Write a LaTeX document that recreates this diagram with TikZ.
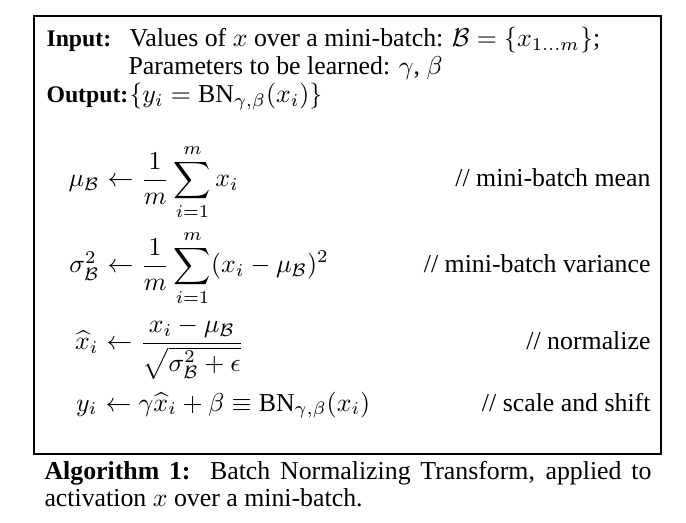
\documentclass[tikz,border=0pt]{standalone}
\usepackage{amsmath}
\usepackage[no-math]{fontspec}
\setmainfont{Liberation Serif}
\begin{document}
\begin{tikzpicture}[x=0.3872pt, y=-0.3872pt,
  lft/.style={inner sep=0pt, anchor=base west},
  rgt/.style={inner sep=0pt, anchor=base east},
  hdr/.style={lft, font=\fontsize{9.2}{11}\selectfont\bfseries}]
\useasboundingbox (0,0) rectangle (686,523);
\draw[line width=0.6pt] (34,16) rectangle (661,454);
\node[hdr] (inp) at (46,47){Input:};
\node[lft] (inpv) at (129,47){Values of $x$ over a mini-batch: $\mathcal{B}=\{x_{1\ldots m}\}$;};
\node[lft] (par) at (128,75){Parameters to be learned: $\gamma$, $\beta$};
\node[hdr] (outp) at (46,103){Output:};
\node[lft] (outv) at (129,103){$\{y_i=\text{BN}_{\gamma,\beta}(x_i)\}$};
\node[rgt] (mu) at (100,187){$\mu_{\mathcal{B}}$};
\node[lft] (muR) at (100,187){${}\leftarrow\displaystyle\frac{1}{m}\sum_{i=1}^{m}x_i$};
\node[rgt] (muC) at (651,187){// mini-batch mean};
\node[rgt] (sig) at (100,273){$\sigma_{\mathcal{B}}^2$};
\node[lft] (sigR) at (100,273){${}\leftarrow\displaystyle\frac{1}{m}\sum_{i=1}^{m}(x_i-\mu_{\mathcal{B}})^2$};
\node[rgt] (sigC) at (651,273){// mini-batch variance};
\node[rgt] (xh) at (99,350){$\widehat{x}_i$};
\node[lft] (xhR) at (99,350){${}\leftarrow\displaystyle\frac{x_i-\mu_{\mathcal{B}}}{\sqrt{\sigma_{\mathcal{B}}^2+\epsilon}}$};
\node[rgt] (xhC) at (651,350){// normalize};
\node[rgt] (y) at (98,411){$y_i$};
\node[lft] (yR) at (98,411){${}\leftarrow\gamma\widehat{x}_i+\beta\equiv\text{BN}_{\gamma,\beta}(x_i)$};
\node[rgt] (yC) at (651,411){// scale and shift};
\node[lft] (cap1) at (44,479){\makebox[235pt][s]{\textbf{Algorithm 1:}\ \ Batch Normalizing Transform, applied to}};
\node[lft] (cap2) at (44,506){activation $x$ over a mini-batch.};
\end{tikzpicture}
\end{document}
